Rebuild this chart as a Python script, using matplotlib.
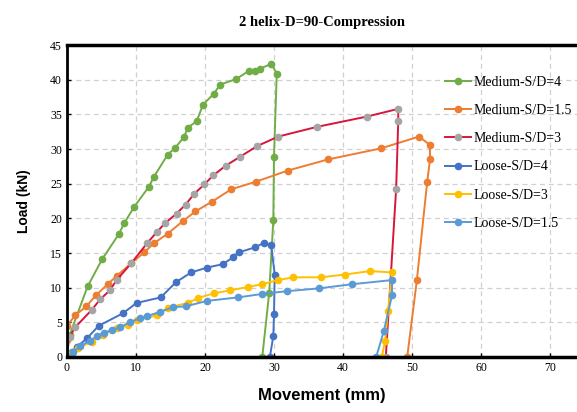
import matplotlib
matplotlib.use('Agg')
import matplotlib.pyplot as plt

# Medium-S/D=4
med4_x = [0, 0.4, 3.0, 5.1, 7.5, 8.3, 9.7, 11.9, 12.6, 14.6, 15.7, 17.0, 17.5, 18.8, 19.7,
          21.3, 22.2, 24.5, 26.4, 27.2, 28.0, 29.6, 30.4, 30.0, 29.9, 29.3, 28.3]
med4_y = [0, 3.2, 10.2, 14.1, 17.7, 19.3, 21.6, 24.6, 26.0, 29.2, 30.2, 31.8, 33.1, 34.0, 36.4,
          38.0, 39.3, 40.1, 41.3, 41.2, 41.6, 42.3, 40.9, 28.9, 19.7, 9.2, 0]

# Medium-S/D=1.5
med15_x = [0, 0, 0, 1.2, 2.8, 4.2, 5.9, 7.2, 9.3, 11.2, 12.6, 14.6, 16.8, 18.6, 21.0, 23.8,
           27.4, 32.0, 37.8, 45.5, 51.0, 52.6, 52.6, 52.2, 50.7, 49.3]
med15_y = [0, 2.4, 4.5, 6.0, 7.3, 8.9, 10.5, 11.7, 13.5, 15.1, 16.4, 17.8, 19.6, 21.0, 22.4, 24.2,
           25.3, 26.9, 28.5, 30.1, 31.8, 30.6, 28.5, 25.3, 11.1, 0]

# Medium-S/D=3
med3_x = [0, 0, 0.4, 1.2, 3.6, 4.8, 6.2, 7.2, 9.3, 11.6, 13.0, 14.2, 15.9, 17.2, 18.4, 19.9,
          21.2, 23.0, 25.1, 27.5, 30.6, 36.2, 43.5, 48.0, 48.0, 47.7, 46.2]
med3_y = [0, 2.9, 2.9, 4.3, 6.8, 8.3, 9.6, 11.1, 13.5, 16.4, 18.0, 19.3, 20.7, 22.0, 23.5, 24.9,
          26.2, 27.6, 28.9, 30.4, 31.8, 33.2, 34.7, 35.8, 34.0, 24.3, 0]

# Loose-S/D=4
loose4_x = [0, 0.7, 1.4, 2.9, 4.6, 8.1, 10.1, 13.6, 15.8, 18.0, 20.3, 22.6, 24.1, 24.9, 27.2,
            28.6, 29.6, 30.1, 30.0, 29.9, 29.4]
loose4_y = [0, 0.7, 1.4, 2.7, 4.5, 6.3, 7.8, 8.6, 10.8, 12.2, 12.9, 13.4, 14.4, 15.1, 15.8,
            16.5, 16.1, 11.9, 6.2, 3.0, 0]

# Loose-S/D=3
loose3_x = [0, 0.7, 1.6, 3.6, 5.2, 7.2, 8.8, 10.1, 13.0, 14.6, 17.5, 19.0, 21.3, 23.6, 26.2,
            28.3, 30.6, 32.8, 36.8, 40.3, 43.9, 47.1, 46.5, 46.1, 45.6]
loose3_y = [0, 0.6, 1.3, 2.2, 3.2, 4.2, 4.6, 5.3, 6.0, 7.1, 7.8, 8.5, 9.2, 9.6, 10.1,
            10.5, 11.1, 11.5, 11.5, 11.9, 12.4, 12.2, 6.6, 2.3, 0]

# Loose-S/D=1.5
loose15_x = [0, 0.9, 1.9, 3.3, 4.3, 5.4, 6.5, 7.7, 9.1, 10.6, 11.6, 13.5, 15.4, 17.2, 20.3,
             24.8, 28.3, 31.9, 36.5, 41.3, 47.1, 47.1, 45.9, 44.8]
loose15_y = [0, 0.7, 1.6, 2.3, 3.0, 3.5, 3.9, 4.3, 5.0, 5.6, 5.9, 6.5, 7.2, 7.3, 8.1,
             8.6, 9.1, 9.5, 9.9, 10.5, 11.1, 8.9, 3.7, 0]

serif = 'Liberation Serif'
sans = 'Liberation Sans'

fig = plt.figure(figsize=(5.77, 4.12), dpi=100)
ax = fig.add_axes([0.116, 0.1335, 0.884, 0.757])

ms = 4.5
lw = 1.4
ax.plot(med4_x, med4_y, '-o', color='#70AD47', lw=lw, ms=ms, label='Medium-S/D=4')
ax.plot(med15_x, med15_y, '-o', color='#ED7D31', lw=lw, ms=ms, label='Medium-S/D=1.5')
ax.plot(med3_x, med3_y, '-o', color='#D6163C', mfc='#A5A5A5', mec='#A5A5A5', lw=lw, ms=ms,
        label='Medium-S/D=3')
ax.plot(loose4_x, loose4_y, '-o', color='#4472C4', lw=lw, ms=ms, label='Loose-S/D=4')
ax.plot(loose3_x, loose3_y, '-o', color='#FFC000', lw=lw, ms=ms, label='Loose-S/D=3')
ax.plot(loose15_x, loose15_y, '-o', color='#5B9BD5', lw=lw, ms=ms, label='Loose-S/D=1.5')

ax.set_xlim(0, 73.9)
ax.set_ylim(0, 45)
ax.set_xticks(range(0, 80, 10))
ax.set_yticks(range(0, 50, 5))
ax.grid(True, ls=(0, (4, 3)), color='#D0D0D0', lw=0.9)
ax.set_axisbelow(True)
ax.tick_params(direction='in', length=3, width=1, labelsize=8.5)
for lab in ax.get_xticklabels() + ax.get_yticklabels():
    lab.set_fontfamily(serif)

ax.spines['left'].set_linewidth(2)
ax.spines['bottom'].set_linewidth(2.5)
ax.spines['top'].set_linewidth(2.5)
ax.spines['right'].set_visible(False)

ax.set_xlabel('Movement (mm)', fontfamily=sans, fontweight='bold', fontsize=12, labelpad=10)
ax.set_ylabel('Load (kN)', fontfamily=sans, fontweight='bold', fontsize=10, labelpad=14)
ax.set_title('2 helix-D=90-Compression', fontfamily=serif, fontweight='bold', fontsize=10.5, pad=14)

ax.legend(loc='upper left', bbox_to_anchor=(0.73, 0.92), frameon=False,
          prop={'family': serif, 'size': 10}, labelspacing=1.1, handlelength=1.9,
          handletextpad=0.2, borderaxespad=0)

fig.savefig('out.png', dpi=100)
